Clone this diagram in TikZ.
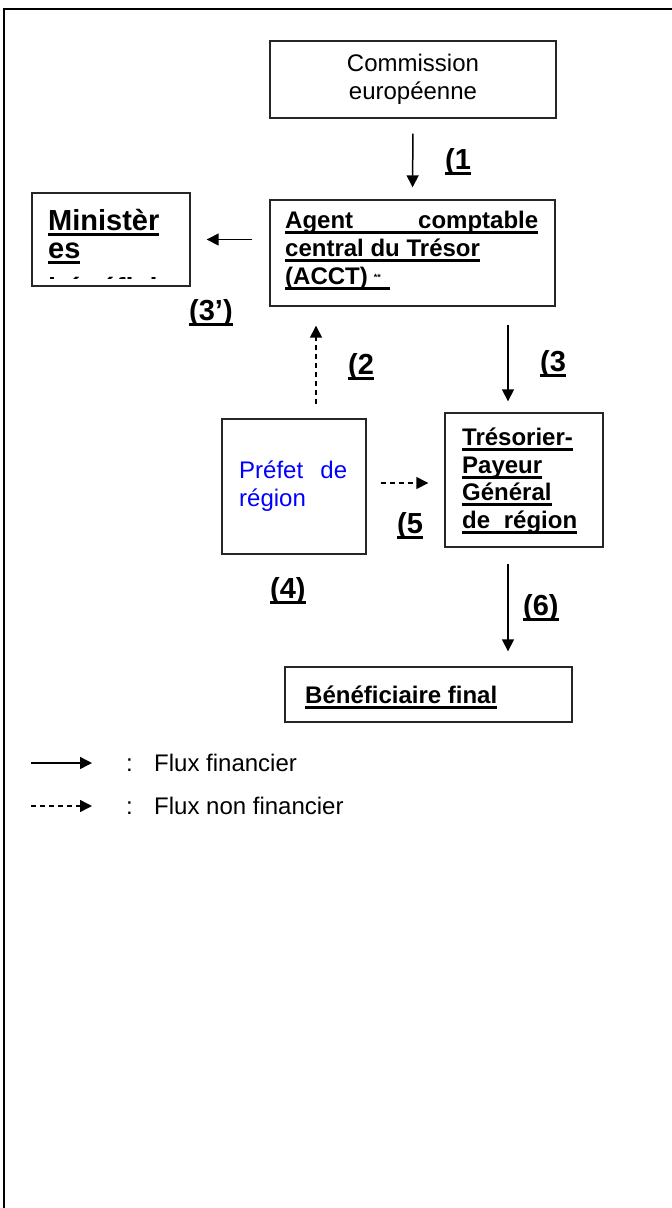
\documentclass[tikz,border=0pt]{standalone}
\usepackage{fontspec}
\setmainfont{Liberation Sans}
\usetikzlibrary{arrows.meta}
\newcommand\ulA[1]{\setbox0=\hbox{#1}\rlap{\rule[-5.5pt]{\wd0}{2.2pt}}\box0}
\newcommand\ulB[1]{\setbox0=\hbox{#1}\rlap{\rule[-6pt]{\wd0}{2.6pt}}\box0}
\definecolor{prefblue}{RGB}{0,0,255}
\tikzset{
  box/.style={draw=black!85, line width=1.4pt, inner sep=0pt},
  tx/.style={anchor=base west, inner sep=0pt, font=\fontsize{24}{27.5}\selectfont},
  btx/.style={anchor=base west, inner sep=0pt, font=\fontsize{24}{27.5}\selectfont\bfseries},
  bigtx/.style={anchor=base west, inner sep=0pt, font=\fontsize{29}{33}\selectfont\bfseries},
  lab/.style={anchor=base west, inner sep=0pt, font=\fontsize{29}{33}\selectfont\bfseries},
  fin/.style={line width=1.5pt, -{Triangle[length=12pt,width=12pt]}},
  nfin/.style={fin, dash pattern=on 5pt off 4pt},
}
\begin{document}
\begin{tikzpicture}[x=1pt,y=-1pt]
\useasboundingbox (0,0) rectangle (672,1208);
% frame
\draw[line width=2.5pt] (672,9) -- (4,9) -- (4,1208);

% boxes
\node[box, minimum width=286pt, minimum height=77pt, align=center,
      font=\fontsize{24}{27.5}\selectfont] (comm) at (413,79.5) {Commission\\europ\'eenne};
\node[box, minimum width=285pt, minimum height=106pt] (acct) at (412.5,253) {};
\node[box, minimum width=158pt, minimum height=93pt] (min) at (111,239.5) {};
\node[box, minimum width=158pt, minimum height=134pt] (tres) at (524,480) {};
\node[box, minimum width=144pt, minimum height=135pt] (pref) at (294,486.5) {};
\node[box, minimum width=287pt, minimum height=55pt] (benef) at (428.5,694.5) {};

% texts
\node[btx] (acct1) at (285,228) {\ulA{\makebox[253pt][s]{Agent comptable}}};
\node[btx] (acct2) at (285,256) {\ulA{central du Tr\'esor}};
\node[btx] (acct3) at (285,284) {\ulA{(ACCT)\hspace{6pt}\raisebox{4pt}{\fontsize{9}{10}\selectfont **}\hspace{9pt}}};

\begin{scope}
\clip (33,195) rectangle (189,278);
\node[bigtx] (min1) at (48,230) {\ulB{Minist\`er}};
\node[bigtx] (min2) at (48,258) {\ulB{es}};
\node[bigtx] (min3) at (48,298) {\ulB{b\'en\'efici}};
\end{scope}

\node[btx] (tres1) at (462,445) {\ulA{Tr\'esorier-}};
\node[btx] (tres2) at (462,473) {\ulA{Payeur}};
\node[btx] (tres3) at (462,500) {\ulA{G\'en\'eral}};
\node[btx] (tres4) at (462,528) {\ulA{\makebox[115pt][s]{de r\'egion}}};

\node[tx, text=prefblue] (pref1) at (239,478) {\makebox[108pt][s]{Pr\'efet de}};
\node[tx, text=prefblue] (pref2) at (239,506) {r\'egion};

\node[btx] (benef1) at (305,703) {\ulA{B\'en\'eficiaire final}};

% connector coordinates
\coordinate (c3) at (508,0);
\coordinate (c2) at (316,0);
\coordinate (c5) at (0,483);

% connectors
\draw[fin, shorten <=15pt, shorten >=12pt] (comm.south) -- (acct.north);
\draw[fin, shorten <=17pt, shorten >=16pt] (min.east -| acct.west) -- (min.east);
\draw[fin, shorten <=18pt, shorten >=11pt] (acct.south -| c3) -- (tres.north -| c3);
\draw[nfin, shorten <=14pt, shorten >=19pt] (pref.north -| c2) -- (acct.south -| c2);
\draw[nfin, shorten <=14pt, shorten >=16pt] (pref.east |- c5) -- (tres.west |- c5);
\draw[fin, shorten <=16pt, shorten >=15pt] (tres.south -| c3) -- (benef.north -| c3);

% labels
\node[lab] (l1) at (445,169) {\ulB{(1}};
\node[lab] (l3p) at (189,320) {\ulB{(3’)}};
\node[lab] (l3) at (540,371) {\ulB{(3}};
\node[lab] (l2) at (348,374) {\ulB{(2}};
\node[lab] (l5) at (397,533) {\ulB{(5}};
\node[lab] (l4) at (270,598) {\ulB{(4)}};
\node[lab] (l6) at (523,615) {\ulB{(6)}};

% legend
\coordinate (lg1a) at (31,763);
\coordinate (lg1b) at (92,763);
\coordinate (lg2a) at (31,806);
\coordinate (lg2b) at (92,806);
\draw[fin] (lg1a) -- (lg1b);
\draw[nfin] (lg2a) -- (lg2b);
\node[tx] (lgc1) at (126,771) {:};
\node[tx] (lgt1) at (154,771) {Flux financier};
\node[tx] (lgc2) at (126,814) {:};
\node[tx] (lgt2) at (154,814) {Flux non financier};
\end{tikzpicture}
\end{document}
